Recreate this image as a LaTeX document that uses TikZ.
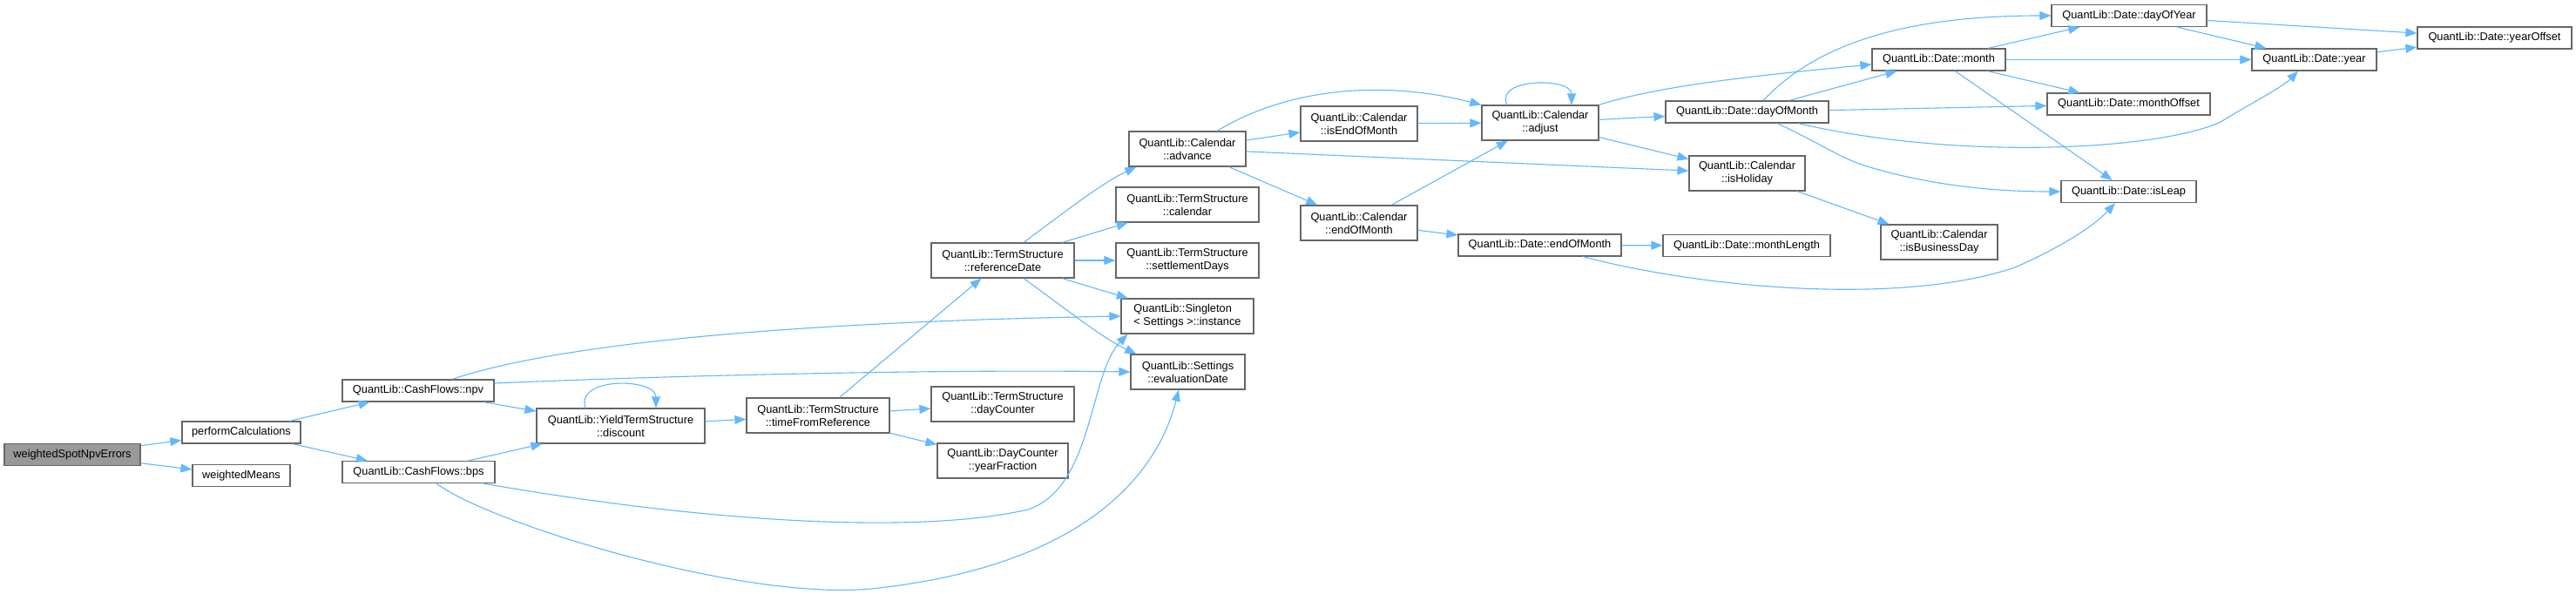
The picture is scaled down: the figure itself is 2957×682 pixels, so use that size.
\documentclass[tikz,border=0pt]{standalone}
\usepackage{fontspec}
\setsansfont{Liberation Sans}
\usetikzlibrary{arrows.meta}
\definecolor{cgline}{HTML}{63B8FF}
\definecolor{cgframe}{HTML}{666666}
\definecolor{cgroot}{HTML}{999999}
\tikzset{
  every node/.style = {font=\fontsize{12.8}{15}\selectfont\sffamily, text=black},
  cgbase/.style  = {rectangle, draw=cgframe, line width=1.2pt, fill=white, inner sep=0pt, align=center},
  cgone/.style   = {cgbase, minimum height=25pt},
  cgtwo/.style   = {cgbase, minimum height=40pt},
  cgstart/.style = {cgone, fill=cgroot},
  cgcall/.style  = {-{Triangle[length=13pt,width=10pt]}, draw=cgline, line width=1.1pt},
}

\begin{document}
\begin{tikzpicture}[x=1pt, y=-1pt]
\path[use as bounding box, fill=white] (0,0) rectangle (2957,682);

% callers
\node[cgstart, minimum width=156pt] (wsne)     at (83,522)    {weightedSpotNpvErrors};
\node[cgone,   minimum width=136pt] (perfcalc) at (277,496.5) {performCalculations};
\node[cgone,   minimum width=112pt] (wmeans)   at (277,546)   {weightedMeans};
\node[cgone,   minimum width=174pt] (npv)      at (480,448.5) {QuantLib::CashFlows::npv};
\node[cgone,   minimum width=175pt] (bps)      at (480.5,542) {QuantLib::CashFlows::bps};

% term structure
\node[cgtwo, minimum width=193pt] (discount)    at (712.5,489) {QuantLib::YieldTermStructure\\::discount};
\node[cgtwo, minimum width=164pt] (timefromref) at (939,477)   {QuantLib::TermStructure\\::timeFromReference};
\node[cgtwo, minimum width=164pt] (refdate)     at (1151,299)  {QuantLib::TermStructure\\::referenceDate};
\node[cgtwo, minimum width=164pt] (daycounter)  at (1151,464)  {QuantLib::TermStructure\\::dayCounter};
\node[cgtwo, minimum width=150pt] (yearfrac)    at (1151,529)  {QuantLib::DayCounter\\::yearFraction};
\node[cgtwo, minimum width=134pt] (advance)     at (1363,171)  {QuantLib::Calendar\\::advance};
\node[cgtwo, minimum width=164pt] (tscalendar)  at (1363,235)  {QuantLib::TermStructure\\::calendar};
\node[cgtwo, minimum width=164pt] (settledays)  at (1363,299)  {QuantLib::TermStructure\\::settlementDays};
\node[cgtwo, minimum width=152pt, align=left] (instance) at (1363,363) {QuantLib::Singleton\\< Settings >::instance};
\node[cgtwo, minimum width=131pt] (evaldate)    at (1363.5,427) {QuantLib::Settings\\::evaluationDate};

% calendar
\node[cgtwo, minimum width=134pt] (isendofmonth)   at (1560,142)    {QuantLib::Calendar\\::isEndOfMonth};
\node[cgtwo, minimum width=134pt] (calendofmonth)  at (1560,256)    {QuantLib::Calendar\\::endOfMonth};
\node[cgtwo, minimum width=134pt] (adjust)         at (1768,141)    {QuantLib::Calendar\\::adjust};
\node[cgone, minimum width=187pt] (dateendofmonth) at (1767.5,281.5) {QuantLib::Date::endOfMonth};
\node[cgone, minimum width=187pt] (dayofmonth)     at (2005.5,128.5) {QuantLib::Date::dayOfMonth};
\node[cgtwo, minimum width=133pt] (isholiday)      at (2005.5,199)  {QuantLib::Calendar\\::isHoliday};
\node[cgone, minimum width=192pt] (monthlength)    at (2005,282)    {QuantLib::Date::monthLength};
\node[cgone, minimum width=153pt] (month)          at (2225.5,68.5) {QuantLib::Date::month};
\node[cgtwo, minimum width=134pt] (isbizday)       at (2226,278)    {QuantLib::Calendar\\::isBusinessDay};

% date
\node[cgone, minimum width=178pt] (dayofyear)   at (2444,18)      {QuantLib::Date::dayOfYear};
\node[cgone, minimum width=187pt] (monthoffset) at (2443.5,119.5) {QuantLib::Date::monthOffset};
\node[cgone, minimum width=155pt] (isleap)      at (2443.5,220)   {QuantLib::Date::isLeap};
\node[cgone, minimum width=143pt] (year)        at (2656.5,68.5)  {QuantLib::Date::year};
\node[cgone, minimum width=177pt] (yearoffset)  at (2863.5,43.5)  {QuantLib::Date::yearOffset};

\draw[cgcall] (wsne) -- (perfcalc);
\draw[cgcall] (wsne) -- (wmeans);
\draw[cgcall] (perfcalc) -- (npv);
\draw[cgcall] (perfcalc) -- (bps);
\draw[cgcall] (npv) -- (discount);
\draw[cgcall] ([xshift=39pt]npv.north) .. controls (640,395) and (900,370) .. (instance.west);
\draw[cgcall] ([yshift=8.5pt]npv.east) .. controls (800,430) and (1100,424) .. (evaldate.west);
\draw[cgcall] (bps) -- (discount);
\draw[cgcall] ([xshift=74.5pt]bps.south) .. controls (800,598) and (1050,615) .. (1180,585)
  .. controls (1255,560) and (1250,430) .. ([xshift=8pt]instance.south west);
\draw[cgcall] ([xshift=20.5pt]bps.south) .. controls (560,600) and (850,690) .. (1000,676)
  .. controls (1250,650) and (1330,540) .. ([xshift=-10.5pt]evaldate.south);
\draw[cgcall] ([xshift=-40.5pt]discount.north) .. controls (660,432) and (753,434) .. ([xshift=40.5pt]discount.north);
\draw[cgcall] (discount) -- (timefromref);
\draw[cgcall] (timefromref) -- (refdate);
\draw[cgcall] (timefromref) -- (daycounter);
\draw[cgcall] (timefromref) -- (yearfrac);
\draw[cgcall] ([xshift=24pt]refdate.north) .. controls (1220,245) and (1265,210) .. ([xshift=9pt]advance.south west);
\draw[cgcall] (refdate) -- (tscalendar);
\draw[cgcall] (refdate) -- (settledays);
\draw[cgcall] (refdate) -- (instance);
\draw[cgcall] ([xshift=24pt]refdate.south) .. controls (1220,352) and (1265,388) .. ([xshift=7pt]evaldate.north west);

\draw[cgcall] (advance) -- (isendofmonth);
\draw[cgcall] ([xshift=34pt]advance.north) .. controls (1480,100) and (1590,92) .. (adjust.north west);
\draw[cgcall] (advance) -- (isholiday);
\draw[cgcall] (advance) -- (calendofmonth);
\draw[cgcall] (isendofmonth) -- (adjust);
\draw[cgcall] (calendofmonth) -- (adjust);
\draw[cgcall] (calendofmonth) -- (dateendofmonth);
\draw[cgcall] ([xshift=-38pt]adjust.north) .. controls (1715,89) and (1804,89) .. ([xshift=36pt]adjust.north);
\draw[cgcall] (adjust) -- (dayofmonth);
\draw[cgcall] (adjust) -- (isholiday);
\draw[cgcall] (adjust.north east) .. controls (1900,100) and (2000,88) .. ([yshift=-5.5pt]month.west);
\draw[cgcall] (dateendofmonth) -- (monthlength);
\draw[cgcall] ([xshift=49.5pt]dateendofmonth.south) .. controls (1950,330) and (2180,352) .. (2313,307)
  .. controls (2370,282) and (2405,258) .. ([xshift=-15.5pt]isleap.south);

\draw[cgcall] ([xshift=18.5pt]dayofmonth.north) .. controls (2090,45) and (2200,18) .. (dayofyear.west);
\draw[cgcall] (dayofmonth) -- (month);
\draw[cgcall] (dayofmonth) -- (monthoffset);
\draw[cgcall] ([xshift=58.5pt]dayofmonth.south) .. controls (2250,185) and (2480,172) .. (2549,140)
  .. controls (2590,115) and (2620,100) .. ([xshift=-18.5pt]year.south);
\draw[cgcall] ([xshift=34.5pt]dayofmonth.south) .. controls (2090,165) and (2110,180) .. (2140,190)
  .. controls (2220,215) and (2300,220) .. (isleap.west);
\draw[cgcall] (isholiday) -- (isbizday);
\draw[cgcall] (month) -- (dayofyear);
\draw[cgcall] (month) -- (year);
\draw[cgcall] (month) -- (monthoffset);
\draw[cgcall] (month) -- (isleap);
\draw[cgcall] (dayofyear) -- (year);
\draw[cgcall] (dayofyear) -- (yearoffset);
\draw[cgcall] (year) -- (yearoffset);
\end{tikzpicture}
\end{document}
